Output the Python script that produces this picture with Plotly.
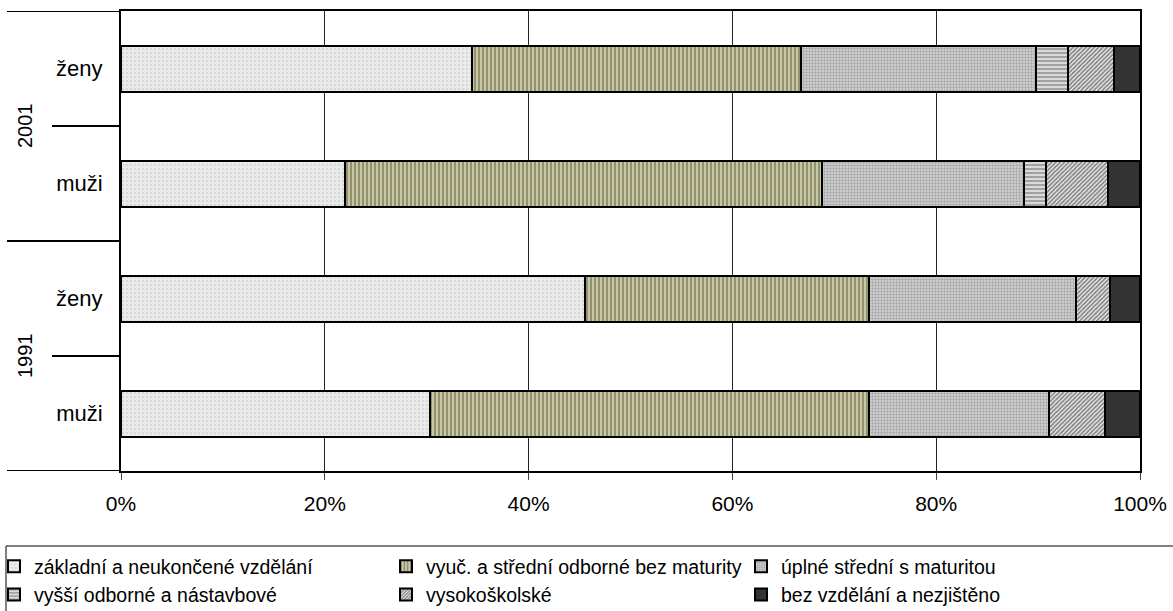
import plotly.graph_objects as go

categories = ["1991 muži", "1991 ženy", "2001 muži", "2001 ženy"]
tick_labels = ["muži", "ženy", "muži", "ženy"]
years = ["1991", "2001"]

series_names = [
    "základní a neukončené vzdělání",
    "vyuč. a střední odborné bez maturity",
    "úplné střední s maturitou",
    "vyšší odborné a nástavbové",
    "vysokoškolské",
    "bez vzdělání a nezjištěno",
]
zakladni = [30.3, 45.5, 22.0, 34.4]
vyuc = [43.1, 27.9, 46.8, 32.3]
uplne = [17.7, 20.3, 19.8, 23.1]
vyssi = [0.0, 0.0, 2.2, 3.1]
vysoko = [5.5, 3.4, 6.1, 4.5]
bez = [3.4, 2.9, 3.1, 2.6]
series_values = [zakladni, vyuc, uplne, vyssi, vysoko, bez]

x_ticks = [0, 20, 40, 60, 80, 100]
x_tick_text = ["0%", "20%", "40%", "60%", "80%", "100%"]

patterns = [
    dict(shape=".", bgcolor="#ececec", fgcolor="#c4c4c4", size=4, solidity=0.35),
    dict(shape="|", bgcolor="#c8c8a6", fgcolor="#5a5a36", size=4, solidity=0.5),
    dict(shape=".", bgcolor="#d6d6d6", fgcolor="#7a7a7a", size=3, solidity=0.5),
    dict(shape="-", bgcolor="#dadada", fgcolor="#6a6a6a", size=4, solidity=0.5),
    dict(shape="/", bgcolor="#ffffff", fgcolor="#111111", size=3, solidity=0.65),
    dict(shape="", bgcolor="#333333", fgcolor="#333333"),
]
solid_colors = ["#e6e6e6", "#9a9a78", "#b8b8b8", "#a8a8a8", "#888888", "#333333"]
legend_ids = ["legend", "legend2", "legend3", "legend", "legend2", "legend3"]

FONT = "Liberation Sans, Arial, sans-serif"

fig = go.Figure()
for name, vals, pat, col, lg in zip(series_names, series_values, patterns, solid_colors, legend_ids):
    fig.add_trace(go.Bar(
        y=categories, x=vals, name=name, orientation="h",
        marker=dict(color=col, pattern=pat, line=dict(color="black", width=2)),
        legend=lg, hoverinfo="x+y+name",
    ))

W, H = 1173, 611
L, T = 121, 11
R = W - 1140
B = H - 471
pw = W - L - R
ph = H - T - B

def px_x(p):
    return (p - L) / pw

def px_y(p):
    return ((H - B) - p) / ph

shapes = []
for yv, xs in [(-0.5, 7), (0.5, 52), (1.5, 7), (2.5, 52), (3.5, 7)]:
    shapes.append(dict(type="line", xref="paper", yref="y", x0=px_x(xs), x1=0,
                       y0=yv, y1=yv, line=dict(color="black", width=2)))
# legend frame
shapes.append(dict(type="rect", xref="paper", yref="paper",
                   x0=px_x(6), x1=px_x(1190),
                   y0=px_y(625), y1=px_y(546),
                   line=dict(color="black", width=1), fillcolor="rgba(0,0,0,0)", layer="above"))

annotations = []
for yr, yv in zip(years, [0.5, 2.5]):
    annotations.append(dict(text=yr, xref="paper", yref="y", x=px_x(25), y=yv,
                            showarrow=False, textangle=-90,
                            font=dict(family=FONT, size=20, color="black"),
                            xanchor="center", yanchor="middle"))

leg_common = dict(orientation="v", xref="paper", yref="paper",
                  xanchor="left", yanchor="top", traceorder="normal",
                  font=dict(family=FONT, size=19.5, color="black"),
                  bgcolor="rgba(0,0,0,0)", borderwidth=0, itemwidth=30,
                  tracegroupgap=0, itemclick=False, itemdoubleclick=False)
leg_y = px_y(547)

fig.update_layout(
    width=W, height=H,
    barmode="stack", bargap=0.6,
    plot_bgcolor="white", paper_bgcolor="white",
    margin=dict(l=L, r=R, t=T, b=B, autoexpand=False),
    xaxis=dict(range=[0, 100], tickvals=x_ticks, ticktext=x_tick_text,
               showgrid=True, gridcolor="#222222", gridwidth=1,
               showline=True, linecolor="black", linewidth=2, mirror=True,
               ticks="outside", ticklen=7, tickcolor="#444444", tickwidth=1,
               ticklabelstandoff=6, zeroline=False,
               tickfont=dict(family=FONT, size=21, color="black"), fixedrange=True),
    yaxis=dict(categoryorder="array", categoryarray=categories,
               tickvals=categories, ticktext=tick_labels, range=[-0.5, 3.5],
               showline=True, linecolor="black", linewidth=2, mirror=True,
               ticks="", ticklabelstandoff=12, showgrid=False,
               tickfont=dict(family=FONT, size=22, color="black"), fixedrange=True),
    legend=dict(x=px_x(-6), y=leg_y, **leg_common),
    legend2=dict(x=px_x(386), y=leg_y, **leg_common),
    legend3=dict(x=px_x(741), y=leg_y, **leg_common),
    shapes=shapes, annotations=annotations,
    showlegend=True,
)

fig.write_html("out.html",
               config={"displayModeBar": False},
               post_script="document.body.style.margin='0';document.body.style.overflow='hidden';")
